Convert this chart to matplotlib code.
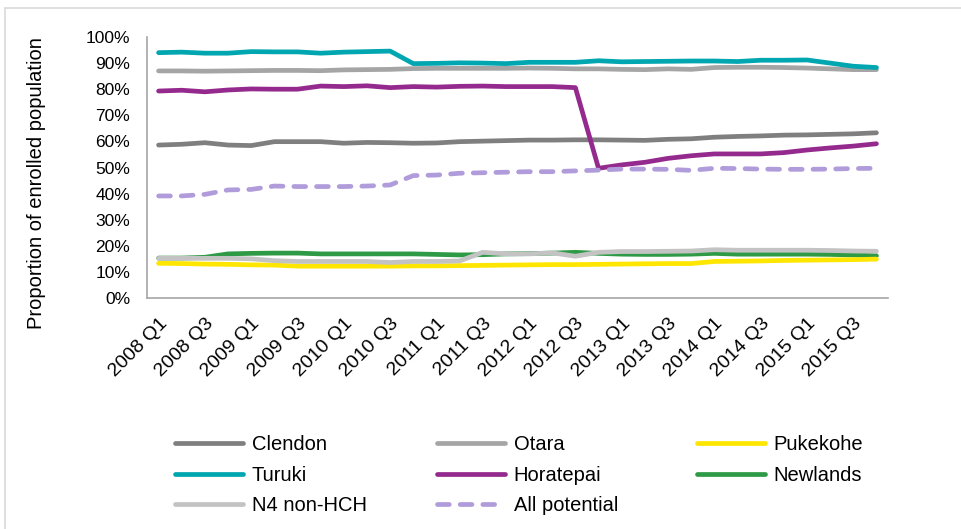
import matplotlib
matplotlib.use('Agg')
import matplotlib.pyplot as plt
from matplotlib.patches import Rectangle
from matplotlib.ticker import PercentFormatter

plt.rcParams['font.family'] = ['Liberation Sans', 'DejaVu Sans']

quarters = ['%d Q%d' % (y, q) for y in range(2008, 2016) for q in range(1, 5)]

clendon = [58.6, 58.9, 59.5, 58.6, 58.4, 59.9, 59.9, 59.9, 59.3, 59.6, 59.5, 59.3,
           59.4, 59.9, 60.1, 60.3, 60.5, 60.5, 60.6, 60.6, 60.5, 60.4, 60.8, 61.0,
           61.6, 61.9, 62.1, 62.4, 62.5, 62.7, 62.9, 63.3]
otara = [87.0, 87.0, 86.9, 87.0, 87.1, 87.2, 87.2, 87.1, 87.4, 87.5, 87.6, 87.9,
         88.0, 88.0, 88.0, 88.0, 88.1, 88.0, 87.8, 87.8, 87.6, 87.5, 87.8, 87.6,
         88.3, 88.4, 88.4, 88.3, 88.1, 87.8, 87.5, 87.5]
pukekohe = [13.3, 13.2, 13.0, 12.9, 12.7, 12.6, 12.2, 12.2, 12.2, 12.2, 12.2, 12.3,
            12.3, 12.4, 12.5, 12.6, 12.7, 12.8, 12.8, 12.9, 13.0, 13.1, 13.2, 13.2,
            14.0, 14.1, 14.2, 14.4, 14.5, 14.6, 14.7, 14.9]
turuki = [94.0, 94.2, 93.8, 93.8, 94.4, 94.3, 94.3, 93.8, 94.2, 94.4, 94.6, 89.8,
          89.9, 90.1, 90.0, 89.8, 90.3, 90.3, 90.3, 90.9, 90.5, 90.6, 90.7, 90.8,
          90.8, 90.6, 91.1, 91.1, 91.2, 90.0, 88.8, 88.3]
horatepai = [79.3, 79.6, 79.0, 79.7, 80.1, 80.0, 80.0, 81.2, 81.0, 81.3, 80.6, 81.0,
             80.8, 81.1, 81.2, 81.0, 81.0, 81.0, 80.6, 49.7, 51.0, 52.0, 53.5, 54.5,
             55.2, 55.2, 55.2, 55.7, 56.7, 57.5, 58.2, 59.1]
newlands = [15.3, 15.3, 15.6, 16.9, 17.1, 17.2, 17.2, 16.9, 16.9, 16.9, 16.9, 16.9,
            16.7, 16.5, 16.6, 16.9, 17.0, 17.2, 17.5, 17.1, 16.8, 16.7, 16.7, 16.8,
            17.1, 16.8, 16.8, 16.8, 16.8, 16.7, 16.5, 16.2]
n4_non_hch = [15.2, 15.2, 15.2, 15.2, 15.0, 14.3, 14.0, 14.0, 14.0, 14.0, 13.6, 14.0,
              14.0, 14.2, 17.5, 16.9, 16.9, 17.3, 16.0, 17.5, 17.8, 17.8, 17.9, 18.0,
              18.5, 18.3, 18.3, 18.3, 18.3, 18.2, 18.0, 17.9]
all_potential = [39.1, 39.1, 39.7, 41.4, 41.6, 42.9, 42.7, 42.7, 42.7, 42.9, 43.3, 46.9,
                 47.1, 47.8, 48.0, 48.2, 48.4, 48.4, 48.7, 49.0, 49.4, 49.4, 49.3, 48.9,
                 49.7, 49.6, 49.4, 49.3, 49.3, 49.4, 49.6, 49.7]

series = [
    ('Clendon', clendon, '#7F7F7F'),
    ('Otara', otara, '#A5A5A5'),
    ('Pukekohe', pukekohe, '#FFE600'),
    ('Turuki', turuki, '#00A6B0'),
    ('Horatepai', horatepai, '#952A8E'),
    ('Newlands', newlands, '#2E9A46'),
    ('N4 non-HCH', n4_non_hch, '#C3C3C3'),
]

fig = plt.figure(figsize=(9.61, 5.29), dpi=100)
ax = fig.add_axes([147 / 961, 1 - 298 / 529, (888 - 147) / 961, (298 - 37) / 529])

# light border of the chart area (runs off the right/bottom edges)
fig.patches.append(Rectangle((5 / 961, -0.2), 1.2, 1.2 - 8 / 529, transform=fig.transFigure,
                             fill=False, edgecolor='#D9D9D9', linewidth=1.2))

x = list(range(len(quarters)))
LW = 3.4
handles = {}
for name, vals, col in series:
    l, = ax.plot(x, [v / 100 for v in vals], color=col, lw=LW, solid_capstyle='round',
                 solid_joinstyle='round', label=name)
    handles[name] = l
handles['N4 non-HCH'].set_zorder(2.5)
handles['Pukekohe'].set_zorder(2.4)
l, = ax.plot(x, [v / 100 for v in all_potential], color='#B19CDB', lw=LW, dashes=(2.5, 2.3),
             dash_capstyle='round', label='All potential')
handles['All potential'] = l

ax.set_xlim(-0.5, len(quarters) - 0.5)
ax.set_ylim(0, 1)
ax.set_yticks([i / 10 for i in range(11)])
ax.yaxis.set_major_formatter(PercentFormatter(1.0, decimals=0))
ax.set_xticks(x[::2])
ax.set_xticklabels(quarters[::2], rotation=45, ha='right', rotation_mode='anchor')
ax.tick_params(axis='both', length=0, colors='black')
ax.tick_params(axis='y', pad=12, labelsize=12.5)
ax.tick_params(axis='x', pad=12, labelsize=14)
for s in ['top', 'right']:
    ax.spines[s].set_visible(False)
for s in ['left', 'bottom']:
    ax.spines[s].set_color('#A6A6A6')
    ax.spines[s].set_linewidth(1.2)

fig.text(37 / 961, 1 - 183 / 529, 'Proportion of enrolled population', rotation=90,
         ha='center', va='center', fontsize=14.5)

cols = [['Clendon', 'Turuki', 'N4 non-HCH'],
        ['Otara', 'Horatepai', 'All potential'],
        ['Pukekohe', 'Newlands']]
xs = [175, 437, 697]
for names, xp in zip(cols, xs):
    fig.legend([handles[n] for n in names], names, loc='upper left',
               bbox_to_anchor=(xp / 961, 1 - 435 / 529), frameon=False,
               fontsize=14.5, handlelength=3.4, handletextpad=0.4,
               labelspacing=0.58, borderpad=0, borderaxespad=0)

fig.savefig('out.png', dpi=100)
